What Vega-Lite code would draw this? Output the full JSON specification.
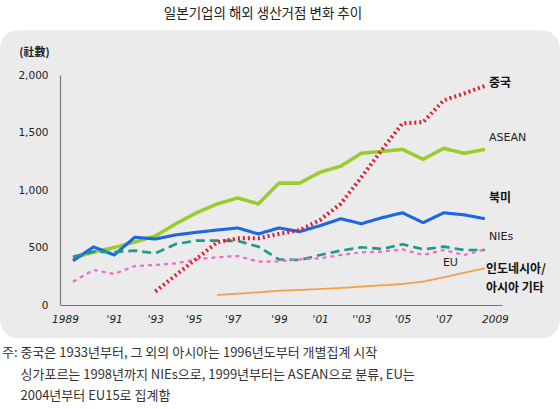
{
  "$schema": "https://vega.github.io/schema/vega-lite/v6.json",
  "width": 442,
  "height": 230,
  "autosize": {"type": "none"},
  "padding": {"left": 60, "top": 75, "right": 58, "bottom": 104},
  "background": "#ffffff",
  "config": {"view": {"stroke": null}},
  "title": {
    "text": "일본기업의 해외 생산거점 변화 추이",
    "font": "Noto Sans CJK KR",
    "fontSize": 13.5,
    "fontWeight": "normal",
    "color": "#222222",
    "anchor": "middle",
    "frame": "group",
    "dx": -18,
    "offset": 10
  },
  "datasets": {
    "series": [
      {"series": "ASEAN", "year": 1989, "value": 410},
      {"series": "ASEAN", "year": 1990, "value": 460},
      {"series": "ASEAN", "year": 1991, "value": 500},
      {"series": "ASEAN", "year": 1992, "value": 547},
      {"series": "ASEAN", "year": 1993, "value": 600},
      {"series": "ASEAN", "year": 1994, "value": 707},
      {"series": "ASEAN", "year": 1995, "value": 802},
      {"series": "ASEAN", "year": 1996, "value": 879},
      {"series": "ASEAN", "year": 1997, "value": 931},
      {"series": "ASEAN", "year": 1998, "value": 879},
      {"series": "ASEAN", "year": 1999, "value": 1060},
      {"series": "ASEAN", "year": 2000, "value": 1060},
      {"series": "ASEAN", "year": 2001, "value": 1155},
      {"series": "ASEAN", "year": 2002, "value": 1207},
      {"series": "ASEAN", "year": 2003, "value": 1319},
      {"series": "ASEAN", "year": 2004, "value": 1336},
      {"series": "ASEAN", "year": 2005, "value": 1353},
      {"series": "ASEAN", "year": 2006, "value": 1267},
      {"series": "ASEAN", "year": 2007, "value": 1362},
      {"series": "ASEAN", "year": 2008, "value": 1319},
      {"series": "ASEAN", "year": 2009, "value": 1353},
      {"series": "북미", "year": 1989, "value": 385},
      {"series": "북미", "year": 1990, "value": 505},
      {"series": "북미", "year": 1991, "value": 435},
      {"series": "북미", "year": 1992, "value": 589},
      {"series": "북미", "year": 1993, "value": 574},
      {"series": "북미", "year": 1994, "value": 610},
      {"series": "북미", "year": 1995, "value": 632},
      {"series": "북미", "year": 1996, "value": 652},
      {"series": "북미", "year": 1997, "value": 670},
      {"series": "북미", "year": 1998, "value": 618},
      {"series": "북미", "year": 1999, "value": 670},
      {"series": "북미", "year": 2000, "value": 638},
      {"series": "북미", "year": 2001, "value": 690},
      {"series": "북미", "year": 2002, "value": 750},
      {"series": "북미", "year": 2003, "value": 707},
      {"series": "북미", "year": 2004, "value": 759},
      {"series": "북미", "year": 2005, "value": 802},
      {"series": "북미", "year": 2006, "value": 716},
      {"series": "북미", "year": 2007, "value": 802},
      {"series": "북미", "year": 2008, "value": 784},
      {"series": "북미", "year": 2009, "value": 750},
      {"series": "NIEs", "year": 1989, "value": 420},
      {"series": "NIEs", "year": 1990, "value": 464},
      {"series": "NIEs", "year": 1991, "value": 460},
      {"series": "NIEs", "year": 1992, "value": 473},
      {"series": "NIEs", "year": 1993, "value": 450},
      {"series": "NIEs", "year": 1994, "value": 531},
      {"series": "NIEs", "year": 1995, "value": 560},
      {"series": "NIEs", "year": 1996, "value": 560},
      {"series": "NIEs", "year": 1997, "value": 557},
      {"series": "NIEs", "year": 1998, "value": 507},
      {"series": "NIEs", "year": 1999, "value": 397},
      {"series": "NIEs", "year": 2000, "value": 391},
      {"series": "NIEs", "year": 2001, "value": 435},
      {"series": "NIEs", "year": 2002, "value": 473},
      {"series": "NIEs", "year": 2003, "value": 502},
      {"series": "NIEs", "year": 2004, "value": 487},
      {"series": "NIEs", "year": 2005, "value": 528},
      {"series": "NIEs", "year": 2006, "value": 484},
      {"series": "NIEs", "year": 2007, "value": 507},
      {"series": "NIEs", "year": 2008, "value": 478},
      {"series": "NIEs", "year": 2009, "value": 478},
      {"series": "EU", "year": 1989, "value": 203},
      {"series": "EU", "year": 1990, "value": 305},
      {"series": "EU", "year": 1991, "value": 270},
      {"series": "EU", "year": 1992, "value": 339},
      {"series": "EU", "year": 1993, "value": 348},
      {"series": "EU", "year": 1994, "value": 363},
      {"series": "EU", "year": 1995, "value": 397},
      {"series": "EU", "year": 1996, "value": 415},
      {"series": "EU", "year": 1997, "value": 426},
      {"series": "EU", "year": 1998, "value": 377},
      {"series": "EU", "year": 1999, "value": 380},
      {"series": "EU", "year": 2000, "value": 397},
      {"series": "EU", "year": 2001, "value": 406},
      {"series": "EU", "year": 2002, "value": 435},
      {"series": "EU", "year": 2003, "value": 458},
      {"series": "EU", "year": 2004, "value": 464},
      {"series": "EU", "year": 2005, "value": 484},
      {"series": "EU", "year": 2006, "value": 435},
      {"series": "EU", "year": 2007, "value": 478},
      {"series": "EU", "year": 2008, "value": 435},
      {"series": "EU", "year": 2009, "value": 484},
      {"series": "중국", "year": 1993, "value": 118},
      {"series": "중국", "year": 1994, "value": 261},
      {"series": "중국", "year": 1995, "value": 403},
      {"series": "중국", "year": 1996, "value": 545},
      {"series": "중국", "year": 1997, "value": 580},
      {"series": "중국", "year": 1998, "value": 580},
      {"series": "중국", "year": 1999, "value": 618},
      {"series": "중국", "year": 2000, "value": 650},
      {"series": "중국", "year": 2001, "value": 740},
      {"series": "중국", "year": 2002, "value": 880},
      {"series": "중국", "year": 2003, "value": 1110},
      {"series": "중국", "year": 2004, "value": 1350},
      {"series": "중국", "year": 2005, "value": 1580},
      {"series": "중국", "year": 2006, "value": 1590},
      {"series": "중국", "year": 2007, "value": 1780},
      {"series": "중국", "year": 2008, "value": 1840},
      {"series": "중국", "year": 2009, "value": 1905},
      {"series": "인도네시아/아시아 기타", "year": 1996, "value": 87},
      {"series": "인도네시아/아시아 기타", "year": 1997, "value": 98},
      {"series": "인도네시아/아시아 기타", "year": 1998, "value": 110},
      {"series": "인도네시아/아시아 기타", "year": 1999, "value": 124},
      {"series": "인도네시아/아시아 기타", "year": 2000, "value": 131},
      {"series": "인도네시아/아시아 기타", "year": 2001, "value": 139},
      {"series": "인도네시아/아시아 기타", "year": 2002, "value": 148},
      {"series": "인도네시아/아시아 기타", "year": 2003, "value": 160},
      {"series": "인도네시아/아시아 기타", "year": 2004, "value": 171},
      {"series": "인도네시아/아시아 기타", "year": 2005, "value": 183},
      {"series": "인도네시아/아시아 기타", "year": 2006, "value": 203},
      {"series": "인도네시아/아시아 기타", "year": 2007, "value": 241},
      {"series": "인도네시아/아시아 기타", "year": 2008, "value": 281},
      {"series": "인도네시아/아시아 기타", "year": 2009, "value": 319}
    ],
    "labels": [
      {"label": "중국", "year": 2009.2, "value": 1930},
      {"label": "ASEAN", "year": 2009.2, "value": 1452},
      {"label": "북미", "year": 2009.2, "value": 930},
      {"label": "NIEs", "year": 2009.2, "value": 591},
      {"label": "EU", "year": 2006.96, "value": 365},
      {"label": "인도네시아/", "year": 2009.05, "value": 313},
      {"label": "아시아 기타", "year": 2009.05, "value": 148}
    ]
  },
  "layer": [
    {
      "data": {"values": [{}]},
      "mark": {"type": "rect", "color": "#ebebeb", "cornerRadius": 18, "clip": false},
      "encoding": {
        "x": {"datum": 1985.46, "type": "quantitative"},
        "x2": {"datum": 2012.64},
        "y": {"datum": -290, "type": "quantitative"},
        "y2": {"datum": 2390}
      }
    },
    {
      "data": {"name": "series"},
      "mark": {"type": "line", "strokeCap": "butt", "strokeJoin": "round"},
      "encoding": {
        "x": {
          "field": "year",
          "type": "quantitative",
          "scale": {"domain": [1988.37, 2009.83], "nice": false, "zero": false},
          "axis": {
            "zindex": 1,
            "values": [1989, 1991, 1993, 1995, 1997, 1999, 2001, 2003, 2005, 2007, 2009],
            "labelExpr": "datum.value == 1989 || datum.value == 2009 ? datum.label : (datum.value == 2003 ? \"''03\" : \"'\" + substring(datum.label, 2, 4))",
            "format": "d",
            "grid": false,
            "ticks": false,
            "domainColor": "#777777",
            "domainWidth": 1.2,
            "labelFont": "DejaVu Sans",
            "labelFontStyle": "italic",
            "labelFontSize": 10.5,
            "labelColor": "#222222",
            "labelPadding": 9,
            "labelOffset": {
              "condition": [
                {"test": "datum.value == 1989", "value": -8},
                {"test": "datum.value == 2009", "value": 10},
                {"test": "datum.value == 1997", "value": -5},
                {"test": "datum.value == 1995", "value": -3}
              ],
              "value": 0
            },
            "labelFlush": false,
            "title": [
              "싱가포르는 1998년까지 NIEs으로, 1999년부터는 ASEAN으로 분류, EU는",
              "2004년부터 EU15로 집계함"
            ],
            "titleFont": "Noto Sans CJK KR",
            "titleFontSize": 13,
            "titleFontWeight": "normal",
            "titleColor": "#333333",
            "titleAlign": "left",
            "titleAnchor": "start",
            "titleBaseline": "top",
            "titleLineHeight": 21.5,
            "titleX": -40,
            "titleY": 63
          }
        },
        "y": {
          "field": "value",
          "type": "quantitative",
          "scale": {"domain": [0, 2000], "nice": false},
          "axis": {
            "zindex": 1,
            "values": [0, 500, 1000, 1500, 2000],
            "format": ",d",
            "grid": false,
            "ticks": false,
            "domainColor": "#777777",
            "domainWidth": 1.2,
            "labelFont": "DejaVu Sans",
            "labelFontSize": 10.5,
            "labelColor": "#222222",
            "labelPadding": 12,
            "labelFlush": false,
            "title": "(社數)",
            "titleFont": "Noto Sans CJK KR",
            "titleFontSize": 11,
            "titleFontWeight": "bold",
            "titleColor": "#222222",
            "titleAngle": 0,
            "titleAlign": "center",
            "titleBaseline": "middle",
            "titleX": -26,
            "titleY": -23
          }
        },
        "color": {
          "field": "series",
          "type": "nominal",
          "legend": null,
          "scale": {
            "domain": ["인도네시아/아시아 기타", "EU", "NIEs", "북미", "ASEAN", "중국"],
            "range": ["#f4a04e", "#f06cc4", "#1e9a8c", "#1f66e5", "#9ccb2c", "#e21b2e"]
          }
        },
        "strokeDash": {
          "field": "series",
          "type": "nominal",
          "legend": null,
          "scale": {
            "domain": ["인도네시아/아시아 기타", "EU", "NIEs", "북미", "ASEAN", "중국"],
            "range": [[1, 0], [4, 4], [9, 5], [1, 0], [1, 0], [2, 3]]
          }
        },
        "strokeWidth": {
          "field": "series",
          "type": "nominal",
          "legend": null,
          "scale": {
            "domain": ["인도네시아/아시아 기타", "EU", "NIEs", "북미", "ASEAN", "중국"],
            "range": [1.8, 4, 3, 3, 2.6, 2.2]
          }
        }
      }
    },
    {
      "data": {"name": "labels"},
      "transform": [{"filter": "indexof(['ASEAN', 'NIEs', 'EU'], datum.label) < 0"}],
      "mark": {"type": "text", "align": "left", "baseline": "middle", "font": "Noto Sans CJK KR", "fontSize": 12, "fontWeight": "bold", "color": "#111111"},
      "encoding": {
        "x": {"field": "year", "type": "quantitative"},
        "y": {"field": "value", "type": "quantitative"},
        "text": {"field": "label"}
      }
    },
    {
      "data": {"name": "labels"},
      "transform": [{"filter": "indexof(['ASEAN', 'NIEs', 'EU'], datum.label) >= 0"}],
      "mark": {"type": "text", "align": "left", "baseline": "middle", "font": "DejaVu Sans", "fontSize": 11, "color": "#222222"},
      "encoding": {
        "x": {"field": "year", "type": "quantitative"},
        "y": {"field": "value", "type": "quantitative"},
        "text": {"field": "label"}
      }
    },
    {
      "data": {"values": [{}]},
      "mark": {"type": "text", "align": "left", "baseline": "middle", "font": "Noto Sans CJK KR", "fontSize": 13, "color": "#333333", "clip": false},
      "encoding": {
        "x": {"datum": 1985.55, "type": "quantitative"},
        "y": {"datum": -417, "type": "quantitative"},
        "text": {"value": "주: 중국은 1933년부터, 그 외의 아시아는 1996년도부터 개별집계 시작"}
      }
    }
  ]
}
